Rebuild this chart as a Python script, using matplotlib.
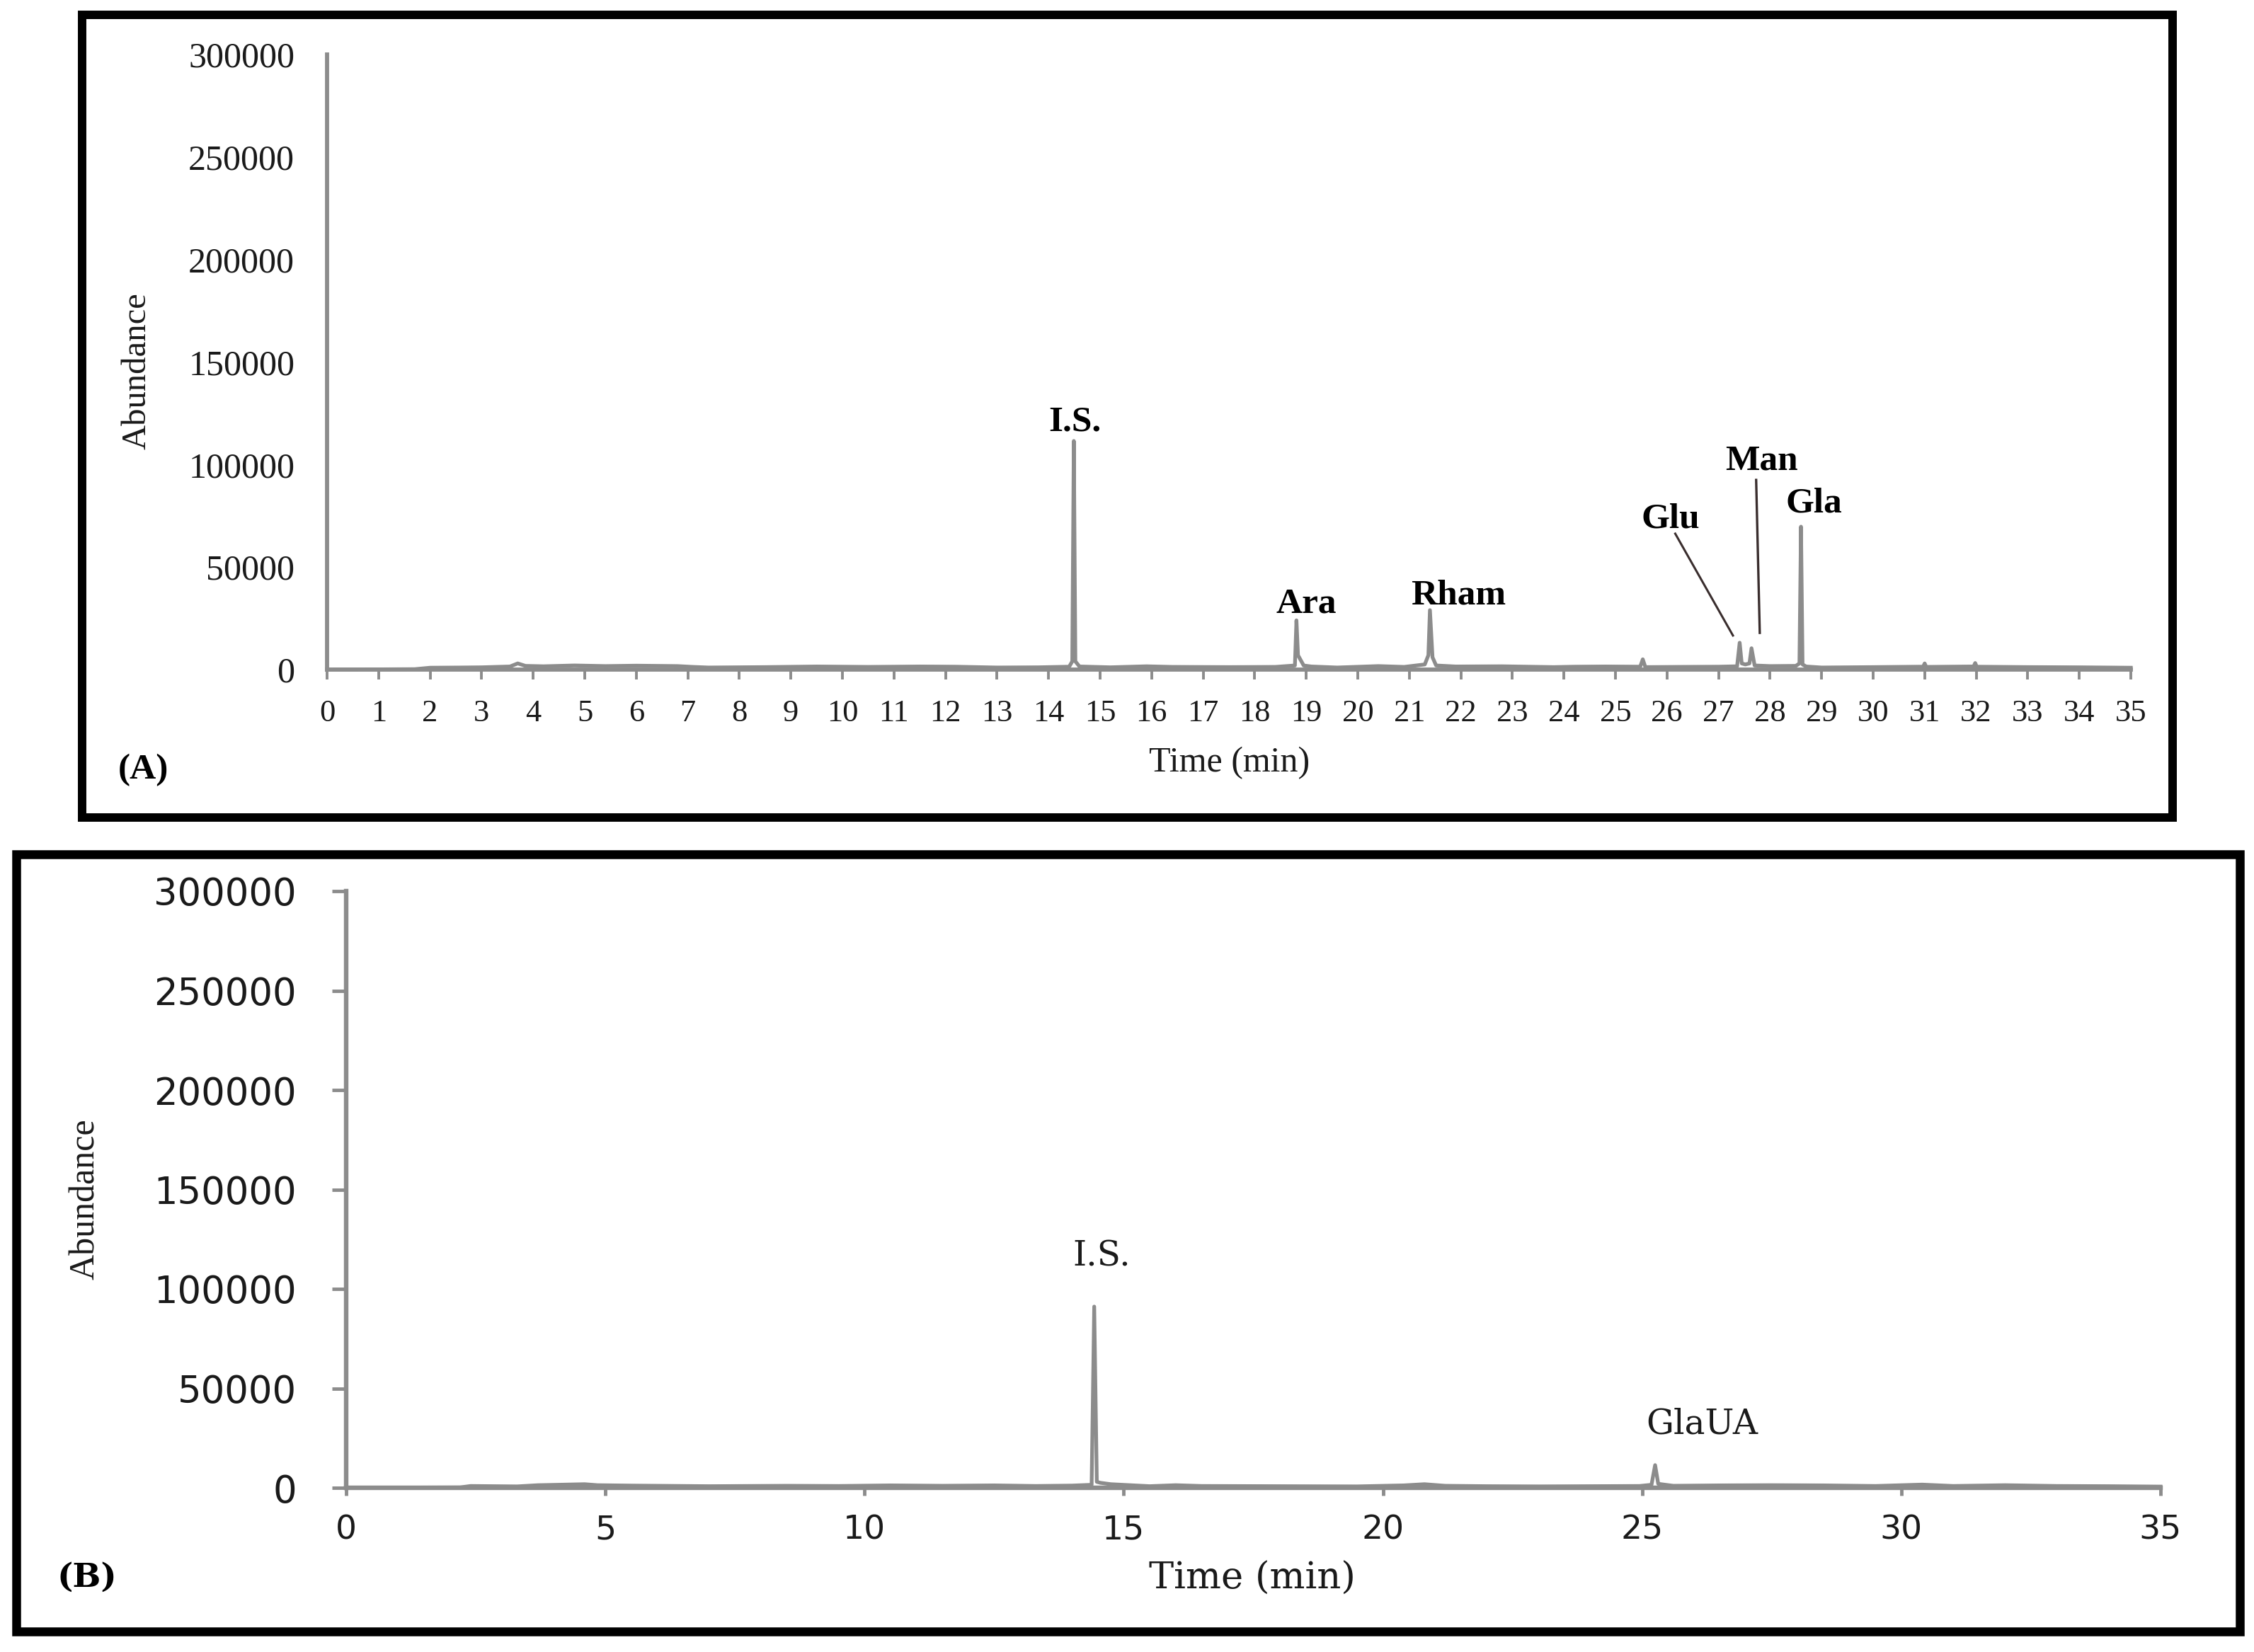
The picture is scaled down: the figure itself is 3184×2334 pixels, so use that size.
import matplotlib
matplotlib.use("Agg")
import matplotlib.pyplot as plt
from matplotlib.patches import Rectangle

# ---------------- data ----------------
# Panel A chromatogram (time in min, abundance)
time_a = [0.00, 0.05, 1.70, 2.00, 2.60, 3.00, 3.55, 3.70, 3.85, 4.20, 4.80, 5.40,
          6.00, 6.80, 7.10, 7.40, 8.50, 9.50, 10.50, 11.50, 12.20, 12.60, 13.00,
          13.80, 14.40, 14.46, 14.49, 14.52, 14.60, 15.20, 15.90, 16.40, 17.50,
          18.40, 18.78, 18.81, 18.84, 18.95, 19.10, 19.60, 20.40, 20.90, 21.30,
          21.37, 21.40, 21.45, 21.52, 21.90, 22.80, 23.80, 24.20, 24.80, 25.48,
          25.53, 25.58, 26.20, 27.00, 27.36, 27.41, 27.45, 27.52, 27.60, 27.64,
          27.70, 28.00, 28.50, 28.57, 28.60, 28.63, 28.70, 29.00, 30.00, 30.90,
          30.97, 31.00, 31.03, 31.90, 31.95, 31.98, 32.01, 33.00, 34.00, 35.00]
abund_a = [0, 0, 200, 900, 1000, 1100, 1500, 3000, 1800, 1600, 2000, 1700,
           1900, 1700, 1300, 1000, 1200, 1500, 1300, 1500, 1400, 1200, 1000,
           1100, 1400, 4000, 111500, 4000, 1500, 1100, 1600, 1300, 1200,
           1300, 2000, 24000, 7000, 2000, 1500, 1000, 1700, 1300, 2500,
           7000, 29000, 6000, 2000, 1500, 1600, 1200, 1400, 1500, 1400,
           5000, 1200, 1300, 1400, 1600, 13100, 3000, 2500, 3000, 10400,
           2000, 1700, 1800, 3000, 69700, 2500, 1500, 1000, 1200, 1400,
           1400, 3000, 1300, 1500, 1500, 3200, 1400, 1200, 1100, 900]
labels_a = ["I.S.", "Ara", "Rham", "Glu", "Man", "Gla"]
# leader lines (Glu, Man)
leader_glu_t = [26.16, 27.28]
leader_glu_v = [66300, 16600]
leader_man_t = [27.73, 27.80]
leader_man_v = [92500, 17900]

# Panel B chromatogram
time_b = [0.00, 2.20, 2.40, 3.30, 3.70, 4.60, 4.85, 5.50, 6.50, 7.00, 8.50, 9.50,
          10.50, 11.50, 12.50, 13.30, 14.00, 14.38, 14.43, 14.48, 14.55, 14.75,
          15.50, 16.00, 16.50, 18.00, 19.50, 20.40, 20.80, 21.20, 22.00, 23.00,
          24.00, 24.95, 25.18, 25.25, 25.31, 25.45, 25.60, 26.50, 27.50, 28.50,
          29.50, 30.40, 31.00, 32.00, 33.00, 34.00, 35.00]
abund_b = [0, 200, 900, 700, 1300, 1800, 1300, 1100, 900, 800, 1000, 900,
           1200, 1000, 1200, 900, 1100, 1500, 91100, 3000, 2500, 1800,
           800, 1300, 900, 800, 700, 1200, 1800, 1000, 800, 700,
           800, 900, 1500, 11400, 2000, 1500, 1000, 1200, 1300, 1200,
           900, 1600, 900, 1300, 900, 800, 600]
labels_b = ["I.S.", "GlaUA"]

yticks = [0, 50000, 100000, 150000, 200000, 250000, 300000]
xticks_a = list(range(0, 36))
xticks_b = [0, 5, 10, 15, 20, 25, 30, 35]

# ---------------- layout ----------------
W, H = 3184, 2334
fig = plt.figure(figsize=(W / 100, H / 100), dpi=100)


def fx(px):
    return px / W


def fy(py):
    return 1 - py / H


GREY = "#8c8c8c"
TXT = "#1a1a1a"
SERIF = "Liberation Serif"

# frames
fig.patches.append(Rectangle((fx(116), fy(1155)), fx(3069) - fx(116), fy(21) - fy(1155),
                             transform=fig.transFigure, fill=False, ec="black", lw=8.6,
                             joinstyle="miter"))
fig.patches.append(Rectangle((fx(22.5), fy(2304.5)), fx(3163.5) - fx(22.5), fy(1207) - fy(2304.5),
                             transform=fig.transFigure, fill=False, ec="black", lw=9.0,
                             joinstyle="miter"))

# ---------------- panel A ----------------
axA = fig.add_axes([fx(462), fy(946), fx(3010) - fx(462), fy(77) - fy(946)])
axA.plot(time_a, abund_a, color=GREY, lw=3.8, solid_joinstyle="round", clip_on=False, zorder=3)
axA.plot(leader_glu_t, leader_glu_v, color="#3a2e2e", lw=2.2, zorder=4)
axA.plot(leader_man_t, leader_man_v, color="#3a2e2e", lw=2.4, zorder=4)
axA.set_xlim(0, 35)
axA.set_ylim(0, 300000)
for s in ["top", "right"]:
    axA.spines[s].set_visible(False)
for s in ["left", "bottom"]:
    axA.spines[s].set_color(GREY)
    axA.spines[s].set_linewidth(4.2)
axA.set_xticks(xticks_a)
axA.set_xticklabels([str(t) for t in xticks_a], fontfamily=SERIF, fontsize=32, color=TXT)
axA.set_yticks(yticks)
axA.set_yticklabels([str(v) for v in yticks], fontfamily=SERIF, fontsize=36, color=TXT)
axA.tick_params(axis="x", direction="out", length=10, width=2.8, color=GREY, pad=20)
axA.tick_params(axis="y", length=0, pad=33)
axA.patch.set_alpha(0)

pos_a = [(14.51, 122500), (19.00, 33800), (21.95, 38000), (26.07, 75300),
         (27.83, 103600), (28.85, 82800)]
for lab, (t, v) in zip(labels_a, pos_a):
    axA.text(t, v, lab, ha="center", va="center_baseline", fontfamily=SERIF,
             fontweight="bold", fontsize=37, color="black")

fig.text(fx(1737), fy(1078), "Time (min)", ha="center", va="center",
         fontfamily=SERIF, fontsize=36, color=TXT)
fig.text(fx(193), fy(524), "Abundance", ha="center", va="center", rotation=90,
         fontfamily=SERIF, fontsize=35, color=TXT)
fig.text(fx(202), fy(1088), "(A)", ha="center", va="center", fontfamily=SERIF,
         fontweight="bold", fontsize=37, color="black")

# ---------------- panel B ----------------
axB = fig.add_axes([fx(489), fy(2102), fx(3052) - fx(489), fy(1259) - fy(2102)])
axB.plot(time_b, abund_b, color=GREY, lw=3.8, solid_joinstyle="round", clip_on=False, zorder=3)
axB.set_xlim(0, 35)
axB.set_ylim(0, 300000)
for s in ["top", "right"]:
    axB.spines[s].set_visible(False)
for s in ["left", "bottom"]:
    axB.spines[s].set_color(GREY)
    axB.spines[s].set_linewidth(4.6)
axB.set_xticks(xticks_b)
axB.set_xticklabels([str(t) for t in xticks_b], fontfamily="DejaVu Sans", fontsize=34, color=TXT)
axB.set_yticks(yticks)
axB.set_yticklabels([str(v) for v in yticks], fontfamily="DejaVu Sans", fontsize=38, color=TXT)
axB.tick_params(axis="x", direction="out", length=8, width=3.5, color=GREY, pad=19)
axB.tick_params(axis="y", direction="out", length=14.4, width=3.5, color=GREY, pad=36)
axB.patch.set_alpha(0)

pos_b = [(14.58, 118100), (26.16, 33800)]
for lab, (t, v) in zip(labels_b, pos_b):
    axB.text(t, v, lab, ha="center", va="center_baseline", fontfamily="DejaVu Serif",
             fontsize=35, color=TXT)

fig.text(fx(1769), fy(2230), "Time (min)", ha="center", va="center",
         fontfamily="DejaVu Serif", fontsize=38, color=TXT)
fig.text(fx(121), fy(1694), "Abundance", ha="center", va="center", rotation=90,
         fontfamily=SERIF, fontsize=36, color=TXT)
fig.text(fx(123), fy(2229), "(B)", ha="center", va="center", fontfamily="DejaVu Serif",
         fontweight="bold", fontsize=34, color="black")

fig.savefig("out.png", dpi=100)
